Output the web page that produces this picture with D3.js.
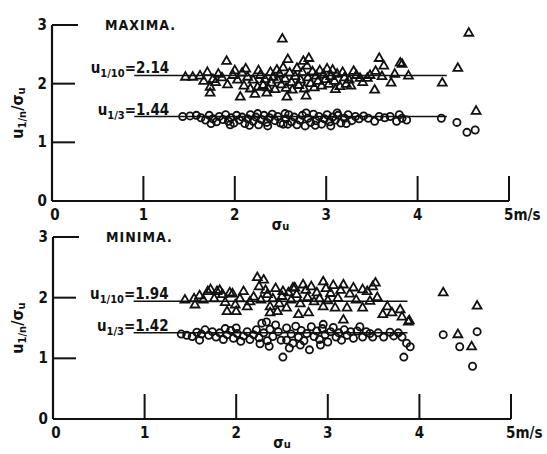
<!DOCTYPE html>
<html>
<head>
<meta charset="utf-8">
<script src="https://cdn.jsdelivr.net/npm/d3@7"></script>
<style>
  body { margin: 0; background: #fff; }
  svg text { font-family: "DejaVu Sans Condensed", "Liberation Sans Narrow", sans-serif; font-weight: bold; fill: #111; }
  .mark { fill: none; stroke: #111; stroke-width: 1.8; }
</style>
</head>
<body>
<svg width="547" height="454"></svg>
<script>
// x ticks shared by both panels
var xTicks = [0, 1, 2, 3, 4, 5];
var yTicks = [0, 1, 2, 3];

// MAXIMA : u1/10 (triangles) and u1/3 (circles), [sigma_u, u/sigma_u]
var maxTri = [
  [1.46,2.11],[1.54,2.11],[1.62,2.13],[1.70,2.19],[1.76,2.07],[1.82,2.16],[1.91,2.38],[1.98,2.14],
  [2.03,2.06],[2.08,2.18],[2.14,2.11],[2.20,2.06],[2.28,2.14],[2.31,1.97],[1.73,1.94],[1.73,1.84],
  [2.06,1.77],[2.22,1.82],[2.35,1.84],[2.42,2.11],[2.39,2.19],[2.46,2.23],
  [2.52,2.76],[4.56,2.86],[4.44,2.26],[4.27,2.01],[4.64,1.53],[2.58,2.41],[2.75,2.38],[2.81,2.43],
  [3.58,2.43],[3.63,2.30],[3.81,2.35],[3.83,2.33],[3.90,2.13],[3.71,2.01],[3.53,1.89],[3.10,1.90],
  [2.57,1.77],[2.78,1.79],[3.22,1.99],[3.45,2.09],[3.37,2.09],[3.54,2.21],[3.30,2.21],[3.18,2.19],[3.07,2.23],
  [1.66,2.04],[1.79,2.02],[1.86,2.10],[1.92,1.98],[2.00,2.22],[2.10,1.96],[2.12,2.25],[2.17,1.91],
  [2.25,1.94],[2.26,2.22],[2.33,2.07],[2.36,1.93],[2.40,2.01],[2.44,1.90],[2.47,2.06],[2.49,2.16],
  [2.51,1.98],[2.53,2.27],[2.55,2.08],[2.56,1.92],[2.60,2.18],[2.62,2.02],[2.63,1.89],[2.66,2.12],
  [2.68,2.26],[2.70,1.97],[2.72,2.06],[2.74,2.19],[2.76,1.91],[2.79,2.30],[2.80,2.10],[2.83,2.00],
  [2.85,2.20],[2.87,1.93],[2.89,2.13],[2.91,2.04],[2.93,2.22],[2.95,1.96],[2.97,2.15],[2.99,2.07],
  [3.01,2.25],[3.03,1.99],[3.05,2.12],[3.09,2.04],[3.12,2.16],[3.15,1.95],[3.20,2.10],[3.25,2.06],
  [3.27,1.96],[3.33,2.14],[3.40,2.02],[3.48,2.14],[3.61,2.12],[3.75,2.16]
];
var maxCir = [
  [4.26,1.41],[4.43,1.34],[4.54,1.17],[4.63,1.21],[3.77,1.36],[3.88,1.38],[3.53,1.36],[2.77,1.28],[2.53,1.31],
  [1.43,1.44],[1.51,1.45],[1.58,1.46],[1.63,1.42],[1.68,1.38],[1.72,1.46],[1.76,1.40],[1.80,1.35],
  [1.83,1.44],[1.87,1.39],[1.90,1.47],[1.93,1.36],[1.96,1.42],[1.99,1.33],[2.02,1.46],[2.05,1.38],
  [2.08,1.43],[2.11,1.32],[2.14,1.40],[2.17,1.47],[2.20,1.36],[2.23,1.43],[2.26,1.30],[2.29,1.39],
  [2.32,1.46],[2.35,1.34],[2.38,1.42],[2.41,1.48],[2.44,1.37],[2.47,1.44],[2.50,1.33],[2.56,1.40],
  [2.59,1.47],[2.62,1.35],[2.65,1.43],[2.68,1.30],[2.71,1.38],[2.74,1.46],[2.80,1.41],[2.83,1.34],
  [2.86,1.48],[2.89,1.37],[2.92,1.44],[2.95,1.31],[2.98,1.40],[3.01,1.47],[3.04,1.35],[3.07,1.43],
  [3.10,1.38],[3.13,1.46],[3.16,1.33],[3.20,1.41],[3.24,1.47],[3.28,1.37],[3.32,1.44],[3.36,1.40],
  [3.41,1.45],[3.46,1.41],[3.58,1.44],[3.64,1.42],[3.70,1.44],[3.80,1.47],[3.83,1.41],
  [1.74,1.32],[1.95,1.30],[2.16,1.29],[2.36,1.28],[2.58,1.31],[2.88,1.29],[3.05,1.28],[3.22,1.32],
  [2.25,1.49],[2.55,1.49],[2.78,1.50],[3.12,1.50]
];

// MINIMA
var minTri = [
  [1.44,1.96],[1.54,1.98],[1.55,1.88],[1.64,1.96],[1.69,2.10],[1.72,2.13],[1.79,2.10],[1.85,2.05],
  [1.96,2.06],[1.99,1.88],[1.90,1.77],[2.00,1.77],[2.12,1.85],[2.19,2.01],[2.23,2.33],[2.30,2.29],
  [2.34,2.05],[2.37,1.85],[2.37,1.75],[2.45,1.77],[2.51,2.10],[2.62,2.16],[2.64,2.16],[2.73,2.21],
  [2.95,2.26],[3.17,2.21],[3.52,2.24],[3.38,2.13],[3.43,2.10],[3.54,2.00],[3.21,1.83],[3.38,1.83],
  [3.65,1.85],[3.60,1.72],[3.70,1.75],[3.79,1.80],[3.81,1.68],[3.88,1.60],[2.79,1.75],[2.68,1.72],
  [3.17,1.63],[3.08,1.83],[2.95,1.85],[4.26,2.08],[4.63,1.86],[4.42,1.39],[4.57,1.19],[3.89,1.62],
  [1.60,2.03],[1.76,1.98],[1.82,2.12],[1.88,1.92],[1.93,2.08],[2.04,1.98],[2.08,2.10],[2.15,1.93],
  [2.25,2.18],[2.27,1.96],[2.32,2.12],[2.40,1.98],[2.43,2.15],[2.47,1.90],[2.50,2.02],[2.55,1.83],
  [2.57,2.08],[2.60,1.96],[2.66,2.05],[2.70,1.90],[2.76,2.12],[2.78,2.00],[2.82,2.18],[2.85,1.93],
  [2.88,2.08],[2.91,1.98],[2.98,2.15],[3.00,1.95],[3.03,2.07],[3.06,2.20],[3.11,1.99],[3.14,2.12],
  [3.24,2.06],[3.28,2.16],[3.31,1.96],[3.46,1.94],[3.49,2.18]
];
var minCir = [
  [1.40,1.40],[1.46,1.38],[1.52,1.36],[1.57,1.43],[1.62,1.40],[1.66,1.47],[1.70,1.38],[1.74,1.44],
  [1.78,1.35],[1.82,1.42],[1.86,1.31],[1.90,1.39],[1.94,1.46],[1.97,1.33],[2.01,1.41],[2.05,1.28],
  [2.08,1.37],[2.12,1.44],[2.15,1.31],[2.19,1.39],[2.22,1.47],[2.25,1.34],[2.28,1.58],[2.30,1.42],
  [2.34,1.29],[2.37,1.48],[2.40,1.36],[2.43,1.55],[2.46,1.44],[2.49,1.30],[2.51,1.02],[2.55,1.50],
  [2.58,1.17],[2.60,1.40],[2.62,1.25],[2.65,1.53],[2.68,1.35],[2.71,1.46],[2.74,1.29],[2.77,1.41],
  [2.80,1.14],[2.82,1.52],[2.85,1.36],[2.88,1.45],[2.91,1.31],[2.94,1.49],[2.97,1.39],[3.00,1.27],
  [3.03,1.44],[3.06,1.51],[3.09,1.35],[3.12,1.42],[3.15,1.30],[3.18,1.47],[3.21,1.38],[3.25,1.44],
  [3.28,1.33],[3.32,1.45],[3.38,1.35],[3.42,1.44],[3.49,1.35],[3.55,1.42],[3.61,1.35],[3.72,1.37],
  [3.81,1.35],[3.83,1.02],[3.90,1.19],[3.86,1.25],
  [4.26,1.39],[4.44,1.19],[4.63,1.44],[4.58,0.87],
  [2.33,1.60],[2.36,1.20],[2.26,1.24],[2.70,1.22],[2.92,1.22],[3.46,1.41],[3.68,1.43],[3.77,1.42],
  [1.60,1.30],[1.88,1.49],[2.00,1.50],[2.55,1.30],[2.95,1.56],[3.35,1.52]
];

// mean lines: subscript, value, x range
var maxLines = [["1/10", 2.14, 0.90, 4.32], ["1/3", 1.44, 0.90, 4.32]];
var minLines = [["1/10", 1.94, 0.88, 3.87], ["1/3", 1.42, 0.88, 3.87]];

var svg = d3.select("svg");

function panel(opt) {
  var x = d3.scaleLinear().domain([0, 5]).range([opt.left, opt.right]);
  var y = d3.scaleLinear().domain([0, 3]).range([opt.bottom, opt.top]);
  var g = svg.append("g");

  // axis lines
  g.append("line").attr("x1", x(0)).attr("x2", x(5)).attr("y1", y(0)).attr("y2", y(0))
    .attr("stroke", "#111").attr("stroke-width", 2.2);
  g.append("line").attr("x1", x(0)).attr("x2", x(0)).attr("y1", y(0)).attr("y2", y(3))
    .attr("stroke", "#111").attr("stroke-width", 2.2);

  // ticks pointing inward
  g.selectAll(".xt").data(xTicks.filter(d => d > 0)).enter().append("line")
    .attr("x1", d => x(d)).attr("x2", d => x(d))
    .attr("y1", y(0)).attr("y2", y(0) - 25)
    .attr("stroke", "#111").attr("stroke-width", 2);
  g.selectAll(".yt").data(yTicks.filter(d => d > 0)).enter().append("line")
    .attr("x1", x(0)).attr("x2", d => x(0) + (d === 3 ? 26 : 23))
    .attr("y1", d => y(d)).attr("y2", d => y(d))
    .attr("stroke", "#111").attr("stroke-width", 2);

  g.selectAll(".xl").data(xTicks).enter().append("text")
    .attr("x", d => x(d) + (d === 0 ? 3 : 0) - (d === 5 ? 5 : 0))
    .attr("y", y(0) + 19)
    .attr("text-anchor", d => d === 5 ? "start" : "middle")
    .attr("font-size", 15)
    .text(d => d === 5 ? "5m/s" : d);
  g.selectAll(".yl").data(yTicks).enter().append("text")
    .attr("x", x(0) - 5).attr("y", d => y(d) + 5)
    .attr("text-anchor", "end").attr("font-size", 15)
    .text(d => d);

  // mean lines
  g.selectAll(".mean").data(opt.lines).enter().append("line")
    .attr("x1", d => x(d[2])).attr("x2", d => x(d[3]))
    .attr("y1", d => y(d[1])).attr("y2", d => y(d[1]))
    .attr("stroke", "#111").attr("stroke-width", 1.5);

  // labels  u1/10=2.14
  var lab = g.selectAll(".lab").data(opt.lines).enter().append("text")
    .attr("x", d => x(d[2]) + 35).attr("y", d => y(d[1]) - 2)
    .attr("text-anchor", "end").attr("font-size", 15);
  lab.append("tspan").text("u");
  lab.append("tspan").attr("font-size", 11).attr("dy", 4).text(d => d[0]);
  lab.append("tspan").attr("dy", -4).text(d => "=" + d[1].toFixed(2));

  // points
  g.selectAll(".tri").data(opt.tri).enter().append("path")
    .attr("class", "mark")
    .attr("d", d3.symbol(d3.symbolTriangle, 34))
    .attr("transform", d => "translate(" + x(d[0]) + "," + y(d[1]) + ")");
  g.selectAll(".cir").data(opt.cir).enter().append("circle")
    .attr("class", "mark").attr("r", 3.6)
    .attr("cx", d => x(d[0])).attr("cy", d => y(d[1]));

  // titles
  g.append("text").attr("x", opt.left + 53).attr("y", opt.top + 5)
    .attr("font-size", 14).attr("letter-spacing", 1).text(opt.title);

  var yl = g.append("text")
    .attr("transform", "translate(23," + (opt.top + opt.bottom) / 2 + ") rotate(-90)")
    .attr("text-anchor", "middle").attr("font-size", 16);
  yl.append("tspan").text("u");
  yl.append("tspan").attr("font-size", 11).attr("dy", 3).text("1/n");
  yl.append("tspan").attr("dy", -3).text("/σ");
  yl.append("tspan").attr("font-size", 11).attr("dy", 2).text("u");

  var xl = g.append("text").attr("x", x(2.5)).attr("y", opt.bottom + opt.xlabDy)
    .attr("text-anchor", "middle").attr("font-size", 15);
  xl.append("tspan").text("σ");
  xl.append("tspan").attr("font-size", 11).text("u");
}

panel({ left: 52, right: 509, top: 25, bottom: 201, title: "MAXIMA.",
        tri: maxTri, cir: maxCir, lines: maxLines, xlabDy: 29 });
panel({ left: 53, right: 511, top: 237, bottom: 419, title: "MINIMA.",
        tri: minTri, cir: minCir, lines: minLines, xlabDy: 29 });
</script>
</body>
</html>
